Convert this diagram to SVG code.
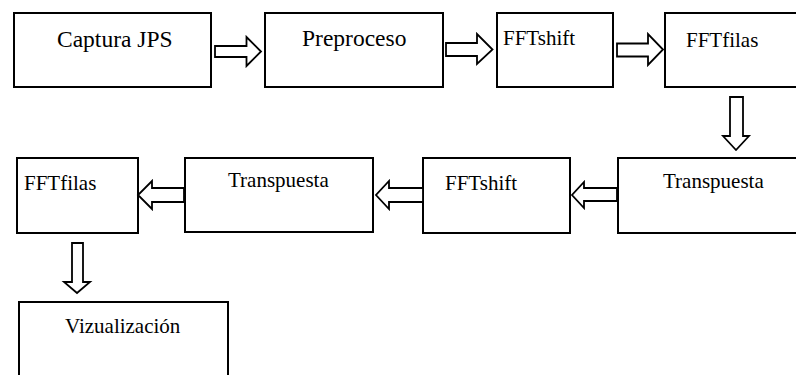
<svg xmlns="http://www.w3.org/2000/svg" width="796" height="375" viewBox="0 0 796 375">
<style>
.box{fill:#fff;stroke:#000;stroke-width:2}
.arr{fill:#fff;stroke:#000;stroke-width:1.8;stroke-linejoin:miter}
.t{font-family:'Liberation Serif',Tinos,'Times New Roman',Times,serif;fill:#000;font-size:21px}
.big{font-size:23.5px}
</style>
<rect width="796" height="375" fill="#fff"/>
<g id="n1"><rect class="box" x="14" y="13" width="197" height="74"/><text class="t big" font-family="Liberation Serif, serif" x="57" y="46.5">Captura JPS</text></g>
<g id="n2"><rect class="box" x="265" y="13" width="178" height="74"/><text class="t big" font-family="Liberation Serif, serif" x="302" y="46">Preproceso</text></g>
<g id="n3"><rect class="box" x="497" y="13" width="116" height="74"/><text class="t" font-family="Liberation Serif, serif" x="503" y="45">FFTshift</text></g>
<g id="n4"><rect class="box" x="665" y="13" width="134" height="74"/><text class="t" font-family="Liberation Serif, serif" x="686" y="47">FFTfilas</text></g>
<g id="n5"><rect class="box" x="618" y="158" width="181" height="75"/><text class="t" font-family="Liberation Serif, serif" x="663" y="188">Transpuesta</text></g>
<g id="n6"><rect class="box" x="423" y="158" width="147" height="75"/><text class="t" font-family="Liberation Serif, serif" x="445" y="190">FFTshift</text></g>
<g id="n7"><rect class="box" x="185" y="158" width="188" height="74"/><text class="t" font-family="Liberation Serif, serif" x="228" y="187">Transpuesta</text></g>
<g id="n8"><rect class="box" x="17" y="158" width="121" height="75"/><text class="t" font-family="Liberation Serif, serif" x="24" y="190">FFTfilas</text></g>
<g id="n9"><rect class="box" x="19" y="302" width="209" height="80"/><text class="t" font-family="Liberation Serif, serif" x="65" y="333">Vizualización</text></g>
<g id="connectors">
<polygon class="arr" points="215,46 246.5,46 246.5,37 261,51.5 246.5,66 246.5,57 215,57"/>
<polygon class="arr" points="446,43 477,43 477,34 492.5,49.5 477,64 477,56 446,56"/>
<polygon class="arr" points="617,43.5 648,43.5 648,34 663,49.5 648,65 648,56.5 617,56.5"/>
<polygon class="arr" points="730,97 743,97 743,136 749,136 736,150 723,136 730,136"/>
<polygon class="arr" points="617,188 584,188 584,182 572,195 584,208 584,201 617,201"/>
<polygon class="arr" points="423,188 389,188 389,181 376,195 389,209 389,202 423,202"/>
<polygon class="arr" points="184,188 152,188 152,181 138,195 152,209 152,202 184,202"/>
<polygon class="arr" points="72,243 83,243 83,282 90,282 77,293 64,282 72,282"/>
</g>
</svg>
